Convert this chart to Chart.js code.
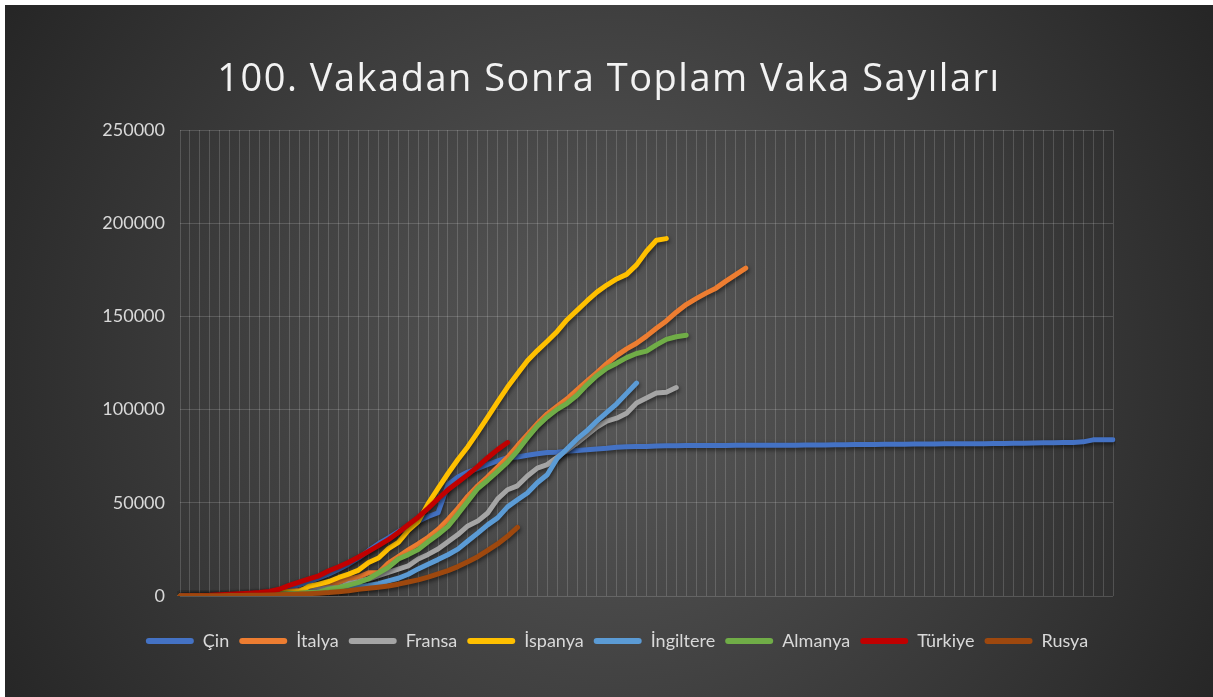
<!DOCTYPE html>
<html lang="tr">
<head>
<meta charset="utf-8">
<title>100. Vakadan Sonra Toplam Vaka Sayıları</title>
<script src="https://cdn.jsdelivr.net/npm/chart.js@4.4.1/dist/chart.umd.min.js"></script>
<style>
  html, body { margin: 0; padding: 0; background: #fff; }
  #kutu { position: absolute; left: 5px; top: 5px; width: 1208px; height: 692px; }
</style>
</head>
<body>
<div id="kutu"><canvas id="vakaChart"></canvas></div>
<script>
// gün sayısı (x ekseni, etiketler gösterilmiyor)
const gunler = [1, 2, 3, 4, 5, 6, 7, 8, 9, 10, 11, 12, 13, 14, 15, 16, 17, 18, 19, 20,
  21, 22, 23, 24, 25, 26, 27, 28, 29, 30, 31, 32, 33, 34, 35, 36, 37, 38, 39, 40,
  41, 42, 43, 44, 45, 46, 47, 48, 49, 50, 51, 52, 53, 54, 55, 56, 57, 58, 59, 60,
  61, 62, 63, 64, 65, 66, 67, 68, 69, 70, 71, 72, 73, 74, 75, 76, 77, 78, 79, 80,
  81, 82, 83, 84, 85, 86, 87, 88, 89, 90, 91, 92, 93, 94, 95];

const ulkeler = ["Çin", "İtalya", "Fransa", "İspanya", "İngiltere", "Almanya", "Türkiye", "Rusya"];
const renkler = ["#4472C4", "#ED7D31", "#A5A5A5", "#FFC000", "#5B9BD5", "#70AD47", "#C00000", "#9E480E"];

const cin = [45, 62, 121, 198, 291, 440, 571, 830, 1287, 1975, 2744, 4515, 5974, 7711, 9692, 11791,
  14380, 17205, 20438, 24324, 28018, 31161, 34546, 37198, 40171, 42638, 44653, 59804, 63851, 66492,
  68500, 70548, 72436, 74185, 74576, 75465, 76288, 76936, 77150, 77658, 78064, 78497, 78824, 79251,
  79824, 80026, 80151, 80270, 80409, 80552, 80651, 80695, 80735, 80754, 80778, 80793, 80813, 80824,
  80844, 80860, 80881, 80894, 80928, 80967, 81008, 81054, 81093, 81171, 81218, 81285, 81340, 81394,
  81439, 81470, 81518, 81554, 81589, 81620, 81639, 81669, 81708, 81740, 81802, 81865, 81907, 81953,
  82052, 82160, 82249, 82295, 82341, 82692, 83760, 83787, 83805];
const italya = [20, 62, 155, 229, 322, 453, 655, 888, 1128, 1694, 2036, 2502, 3089, 3858, 4636, 5883,
  7375, 9172, 10149, 12462, 12462, 17660, 21157, 24747, 27980, 31506, 35713, 41035, 47021, 53578,
  59138, 63927, 69176, 74386, 80589, 86498, 92472, 97689, 101739, 105792, 110574, 115242, 119827,
  124632, 128948, 132547, 135586, 139422, 143626, 147577, 152271, 156363, 159516, 162488, 165155,
  168941, 172434, 175925];
const fransa = [57, 100, 130, 191, 204, 288, 380, 656, 957, 1134, 1217, 1792, 2290, 2290, 3678, 4487,
  4523, 6668, 7699, 9105, 10947, 12726, 14431, 16176, 19856, 22304, 25233, 29155, 32964, 37575,
  40174, 44550, 52128, 56989, 59105, 64338, 68605, 70478, 74390, 78167, 82048, 86334, 90676, 93790,
  95403, 98076, 103573, 106206, 108847, 109252, 111821];
const ispanya = [45, 84, 120, 165, 222, 259, 400, 500, 673, 1073, 1695, 2277, 2277, 5232, 6391, 7798,
  9942, 11748, 13910, 17963, 20410, 25374, 28768, 35136, 39885, 49515, 57786, 65719, 73235, 80110,
  87956, 95923, 104118, 112065, 119199, 126168, 131646, 136675, 141942, 148220, 153222, 158273,
  163027, 166831, 170099, 172541, 177644, 184948, 190839, 191726];
const ingiltere = [51, 85, 114, 160, 206, 271, 321, 373, 456, 456, 798, 1140, 1140, 1543, 1950, 2626,
  2689, 3983, 5018, 5683, 6650, 8077, 9529, 11658, 14543, 17089, 19522, 22141, 25150, 29474, 33718,
  38168, 41903, 47806, 51608, 55242, 60733, 65077, 73758, 78991, 84279, 88621, 93873, 98476, 103093,
  108692, 114217];
const almanya = [46, 48, 79, 130, 159, 196, 262, 482, 670, 799, 1040, 1176, 1457, 1908, 2078, 3675,
  4585, 5795, 7272, 9257, 12327, 15320, 19848, 22213, 24873, 29056, 32986, 37323, 43938, 50871,
  57695, 62095, 66885, 71808, 77872, 84794, 91159, 96092, 100123, 103374, 107663, 113296, 118181,
  122171, 124908, 127854, 130072, 131359, 134753, 137698, 139100, 139900];
const turkiye = [47, 98, 191, 359, 670, 947, 1236, 1529, 1872, 2433, 3629, 5698, 7402, 9217, 10827,
  13531, 15679, 18135, 20921, 23934, 27069, 30217, 34109, 38226, 42282, 47029, 52167, 56956, 61049,
  65111, 69392, 74193, 78546, 82329];
const rusya = [63, 90, 114, 147, 199, 253, 306, 367, 438, 495, 658, 840, 1036, 1264, 1534, 1836, 2337,
  2777, 3548, 4149, 4731, 5389, 6343, 7497, 8672, 10131, 11917, 13584, 15770, 18328, 21102, 24490,
  27938, 32008, 36793];

const yTikleri = [0, 50000, 100000, 150000, 200000, 250000];
const baslikMetni = "100. Vakadan Sonra Toplam Vaka Sayıları";

const seriler = [cin, italya, fransa, ispanya, ingiltere, almanya, turkiye, rusya];

const gridRengi = "rgba(255,255,255,0.16)";
const yaziRengi = "#d9d9d9";

/* arka plan: koyu radyal geçiş */
const arkaPlan = {
  id: "arkaPlan",
  beforeDraw(chart) {
    const { ctx, width, height } = chart;
    const g = ctx.createRadialGradient(width / 2, height * 0.52, 0, width / 2, height * 0.52, width * 0.62);
    g.addColorStop(0, "#5a5a5a");
    g.addColorStop(1, "#222222");
    ctx.save();
    ctx.fillStyle = g;
    ctx.fillRect(0, 0, width, height);
    ctx.restore();
  }
};

/* başlık (harf aralıklı) */
const baslik = {
  id: "baslik",
  afterDraw(chart) {
    const { ctx, width } = chart;
    ctx.save();
    ctx.font = "38px 'Open Sans'";
    ctx.fillStyle = "#f2f2f2";
    ctx.textAlign = "center";
    ctx.textBaseline = "alphabetic";
    ctx.letterSpacing = "1.5px";
    ctx.fillText(baslikMetni, width / 2, 86);
    ctx.restore();
  }
};

/* gösterge grafiğin ortasına göre biraz sağda */
const legendKaydir = {
  id: "legendKaydir",
  afterLayout(chart) {
    chart.legend.left += 58;
    chart.legend.right += 58;
  }
};

/* çizgilerin altındaki gölge */
const golge = {
  id: "golge",
  beforeDatasetDraw(chart) {
    const c = chart.ctx;
    c.save();
    c.shadowColor = "rgba(0,0,0,0.55)";
    c.shadowBlur = 4;
    c.shadowOffsetX = 1;
    c.shadowOffsetY = 2;
  },
  afterDatasetDraw(chart) {
    chart.ctx.restore();
  }
};

const ctx = document.getElementById("vakaChart").getContext("2d");

new Chart(ctx, {
  type: "line",
  data: {
    labels: gunler,
    datasets: ulkeler.map((ad, i) => ({
      label: ad,
      data: seriler[i],
      borderColor: renkler[i],
      backgroundColor: renkler[i],
      borderWidth: 5,
      borderCapStyle: "round",
      borderJoinStyle: "round",
      pointRadius: 0,
      tension: 0,
      order: ulkeler.length - i
    }))
  },
  options: {
    responsive: true,
    maintainAspectRatio: false,
    animation: false,
    layout: {
      padding: { top: 125, right: 100, bottom: 37, left: 0 }
    },
    plugins: {
      title: { display: false },
      tooltip: { enabled: false },
      legend: {
        position: "bottom",
        labels: {
          boxWidth: 48,
          boxHeight: 6,
          useBorderRadius: true,
          borderRadius: 3,
          padding: 10,
          color: yaziRengi,
          font: { family: "Lato", size: 18 },
          sort: (a, b) => a.datasetIndex - b.datasetIndex,
          generateLabels: (chart) =>
            Chart.defaults.plugins.legend.labels.generateLabels(chart).map((l) => ({ ...l, lineWidth: 0 }))
        }
      }
    },
    scales: {
      x: {
        offset: false,
        afterFit: (s) => { s.height = 26; },
        grid: { color: gridRengi, drawTicks: false },
        border: { display: false },
        ticks: { display: false, autoSkip: false }
      },
      y: {
        min: 0,
        max: 250000,
        afterBuildTicks: (s) => { s.ticks = yTikleri.map((v) => ({ value: v })); },
        afterFit: (s) => { s.width = 175; },
        grid: { color: gridRengi, drawTicks: false },
        border: { display: false },
        ticks: {
          color: yaziRengi,
          padding: 15,
          font: { family: "Lato", size: 18 },
          callback: (v) => String(v)
        }
      }
    }
  },
  plugins: [arkaPlan, golge, legendKaydir, baslik]
});
</script>
</body>
</html>
